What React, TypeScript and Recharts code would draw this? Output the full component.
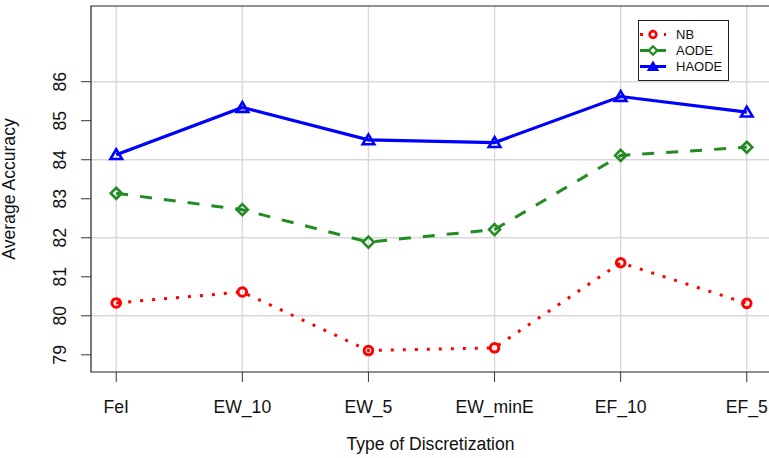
import React from 'react';
import {
    LineChart,
    Line,
    XAxis,
    YAxis,
    CartesianGrid,
    ReferenceArea,
    Legend,
} from 'recharts';

const categories = ['FeI', 'EW_10', 'EW_5', 'EW_minE', 'EF_10', 'EF_5'];
const nbValues = [80.33, 80.61, 79.11, 79.18, 81.36, 80.32];
const aodeValues = [83.14, 82.72, 81.89, 82.21, 84.11, 84.32];
const haodeValues = [84.13, 85.34, 84.51, 84.44, 85.62, 85.22];
const yTicks = [79, 80, 81, 82, 83, 84, 85, 86];
const gridValues = [80, 82, 84, 86];
const xTicks = categories.map((_, i) => i);

const X_DOMAIN: [number, number] = [-0.2, 5.2];
const Y_DOMAIN: [number, number] = [78.56, 87.94];

const FONT = '"Liberation Sans", Arial, Helvetica, sans-serif';
const FS = 17.6;

const data = categories.map((name, i) => ({
    idx: i,
    name,
    NB: nbValues[i],
    AODE: aodeValues[i],
    HAODE: haodeValues[i],
}));

const RED = '#FF0000';
const GREEN = '#228B22';
const BLUE = '#0000FF';

const circleDot = (p: any) => (
    <circle key={`nb-${p.index}`} cx={p.cx} cy={p.cy} r={4.3} fill="none" stroke={RED} strokeWidth={3} />
);

const diamondDot = (p: any) => {
    const s = 5.5;
    return (
        <polygon
            key={`ao-${p.index}`}
            points={`${p.cx},${p.cy - s} ${p.cx + s},${p.cy} ${p.cx},${p.cy + s} ${p.cx - s},${p.cy}`}
            fill="none"
            stroke={GREEN}
            strokeWidth={2.6}
        />
    );
};

const triangleDot = (p: any) => (
    <polygon
        key={`ha-${p.index}`}
        points={`${p.cx},${p.cy - 5.4} ${p.cx - 5.8},${p.cy + 4.4} ${p.cx + 5.8},${p.cy + 4.4}`}
        fill="none"
        stroke={BLUE}
        strokeWidth={2.6}
    />
);

const XTick = (props: any) => {
    const { x, y, payload } = props;
    return (
        <text x={x} y={y + 29} textAnchor="middle" fontSize={FS} fontFamily={FONT} fill="#111">
            {categories[payload.value]}
        </text>
    );
};

const YTick = (props: any) => {
    const { y, payload } = props;
    const bx = 66;
    return (
        <text
            x={bx}
            y={y}
            transform={`rotate(-90 ${bx} ${y})`}
            textAnchor="middle"
            fontSize={FS}
            fontFamily={FONT}
            fill="#111"
        >
            {payload.value}
        </text>
    );
};

const legendRows = [
    { name: 'NB', color: RED, dash: '3 9', dot: 'circle' },
    { name: 'AODE', color: GREEN, dash: '10 6 10', dot: 'diamond' },
    { name: 'HAODE', color: BLUE, dash: undefined, dot: 'triangle' },
];

const LegendBox = () => (
    <div
        style={{
            width: 91,
            height: 61,
            border: '1px solid #222',
            background: '#fff',
            fontFamily: FONT,
            fontSize: 13,
            color: '#111',
            paddingTop: 6,
            boxSizing: 'border-box',
        }}
    >
        {legendRows.map((r) => (
            <div key={r.name} style={{ display: 'flex', alignItems: 'center', height: 15.7 }}>
                <svg width={37} height={15} style={{ display: 'block' }}>
                    <line x1={1} x2={27} y1={7.5} y2={7.5} stroke={r.color} strokeWidth={3} strokeDasharray={r.dash} />
                    {r.dot === 'circle' && <circle cx={14} cy={7.5} r={3.4} fill="#fff" stroke={r.color} strokeWidth={2.6} />}
                    {r.dot === 'diamond' && (
                        <polygon points="14,3.3 18.2,7.5 14,11.7 9.8,7.5" fill="#fff" stroke={r.color} strokeWidth={2.2} />
                    )}
                    {r.dot === 'triangle' && (
                        <polygon points="14,3.5 9.5,11 18.5,11" fill={r.color} stroke={r.color} strokeWidth={2} />
                    )}
                </svg>
                <span style={{ lineHeight: '15px' }}>{r.name}</span>
            </div>
        ))}
    </div>
);

const App: React.FC = () => {
    return (
        <div style={{ position: 'absolute', left: 0, top: 0, width: 769, height: 458, overflow: 'hidden', background: '#fff' }}>
            <LineChart width={776} height={458} data={data} margin={{ top: 6, right: 4, left: 0, bottom: 0 }}>
                <CartesianGrid stroke="#d9d9d9" strokeWidth={1.4} horizontalValues={gridValues} verticalValues={xTicks} />
                <XAxis
                    type="number"
                    dataKey="idx"
                    domain={X_DOMAIN}
                    ticks={xTicks}
                    allowDataOverflow
                    height={86}
                    tickSize={10}
                    axisLine={false}
                    tickLine={{ stroke: '#333' }}
                    tick={<XTick />}
                    interval={0}
                    label={{
                        content: (p: any) => {
                            const vb = p.viewBox || { x: 91, width: 681, y: 372 };
                            return (
                                <text
                                    x={vb.x + vb.width / 2 - 1}
                                    y={449.5}
                                    textAnchor="middle"
                                    fontSize={FS}
                                    fontFamily={FONT}
                                    fill="#111"
                                >
                                    Type of Discretization
                                </text>
                            );
                        },
                    }}
                />
                <YAxis
                    type="number"
                    domain={Y_DOMAIN}
                    ticks={yTicks}
                    allowDataOverflow
                    width={91}
                    tickSize={10}
                    axisLine={false}
                    tickLine={{ stroke: '#333' }}
                    tick={<YTick />}
                    interval={0}
                    label={{
                        content: (p: any) => {
                            const vb = p.viewBox || { y: 6, height: 366 };
                            const cy = vb.y + vb.height / 2;
                            return (
                                <text
                                    x={14.5}
                                    y={cy}
                                    transform={`rotate(-90 14.5 ${cy})`}
                                    textAnchor="middle"
                                    fontSize={FS}
                                    fontFamily={FONT}
                                    fill="#111"
                                >
                                    Average Accuracy
                                </text>
                            );
                        },
                    }}
                />
                <Line
                    dataKey="NB"
                    name="NB"
                    stroke={RED}
                    strokeWidth={3}
                    strokeDasharray="3 9"
                    dot={circleDot}
                    activeDot={false}
                    isAnimationActive={false}
                />
                <Line
                    dataKey="AODE"
                    name="AODE"
                    stroke={GREEN}
                    strokeWidth={3}
                    strokeDasharray="12 12"
                    dot={diamondDot}
                    activeDot={false}
                    isAnimationActive={false}
                />
                <Line
                    dataKey="HAODE"
                    name="HAODE"
                    stroke={BLUE}
                    strokeWidth={3.2}
                    dot={triangleDot}
                    activeDot={false}
                    isAnimationActive={false}
                />
                <ReferenceArea
                    x1={X_DOMAIN[0]}
                    x2={X_DOMAIN[1]}
                    y1={Y_DOMAIN[0]}
                    y2={Y_DOMAIN[1]}
                    fill="none"
                    stroke="#222"
                    strokeWidth={1.2}
                />
                <Legend
                    layout="vertical"
                    align="center"
                    verticalAlign="middle"
                    content={<LegendBox />}
                    wrapperStyle={{ position: 'absolute', left: 638, top: 20, width: 91, height: 61 }}
                />
            </LineChart>
        </div>
    );
};

export default App;
